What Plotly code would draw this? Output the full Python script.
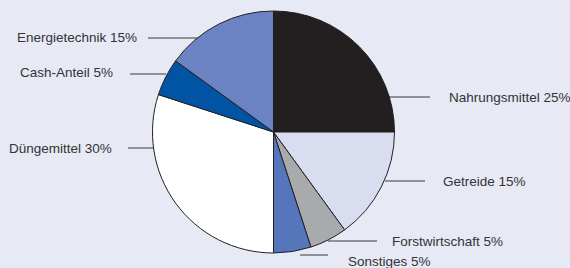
import plotly.graph_objects as go

W, H = 570, 268

# Data
categories = ["Nahrungsmittel", "Getreide", "Forstwirtschaft", "Sonstiges",
              "Düngemittel", "Cash-Anteil", "Energietechnik"]
shares = [25, 15, 5, 5, 30, 5, 15]
colors = ["#231f20", "#d9ddf0", "#a9aaad", "#5676bb", "#ffffff", "#0054a3", "#6b83c3"]

# Label layout (pixel positions): text anchor x, text y, anchor side, leader line x0, x1, line y
label_layout = {
    "Nahrungsmittel": dict(tx=447, ty=97, side="left", lx0=389, lx1=430, ly=97),
    "Getreide": dict(tx=441, ty=181, side="left", lx0=385, lx1=425, ly=181),
    "Forstwirtschaft": dict(tx=390, ty=241, side="left", lx0=328, lx1=377, ly=241),
    "Sonstiges": dict(tx=346, ty=261, side="left", lx0=300, lx1=328, ly=255),
    "Düngemittel": dict(tx=114, ty=148, side="right", lx0=128, lx1=153, ly=148),
    "Cash-Anteil": dict(tx=115, ty=72, side="right", lx0=130, lx1=166, ly=74),
    "Energietechnik": dict(tx=139, ty=38, side="right", lx0=148, lx1=200, ly=38),
}

cx, cy, r = 273.5, 132.0, 121.0

fig = go.Figure(go.Pie(
    labels=categories,
    values=shares,
    sort=False,
    direction="clockwise",
    rotation=0,
    marker=dict(colors=colors, line=dict(color="#231f20", width=1)),
    textinfo="none",
    hoverinfo="label+percent",
    showlegend=False,
    domain=dict(x=[(cx - r) / W, (cx + r) / W], y=[1 - (cy + r) / H, 1 - (cy - r) / H]),
))

annotations = []
shapes = []
for cat, val in zip(categories, shares):
    L = label_layout[cat]
    annotations.append(dict(
        text=f"{cat} {val}%", xref="paper", yref="paper",
        x=L["tx"] / W, y=1 - L["ty"] / H,
        xanchor=L["side"], yanchor="middle", showarrow=False,
        font=dict(family="Liberation Sans, Arial, sans-serif", size=13.5, color="#333333"),
    ))
    shapes.append(dict(
        type="line", xref="paper", yref="paper",
        x0=L["lx0"] / W, x1=L["lx1"] / W,
        y0=1 - L["ly"] / H, y1=1 - L["ly"] / H,
        line=dict(color="#3a3a3a", width=1),
        layer="below",
    ))

fig.update_layout(
    width=W, height=H,
    margin=dict(l=0, r=0, t=0, b=0),
    paper_bgcolor="#e7e9f5",
    plot_bgcolor="#e7e9f5",
    annotations=annotations,
    shapes=shapes,
)

fig.write_html(
    "out.html",
    config={"displayModeBar": False},
    post_script="document.body.style.margin='0';document.body.style.overflow='hidden';"
                "document.body.style.background='#e7e9f5';",
)
